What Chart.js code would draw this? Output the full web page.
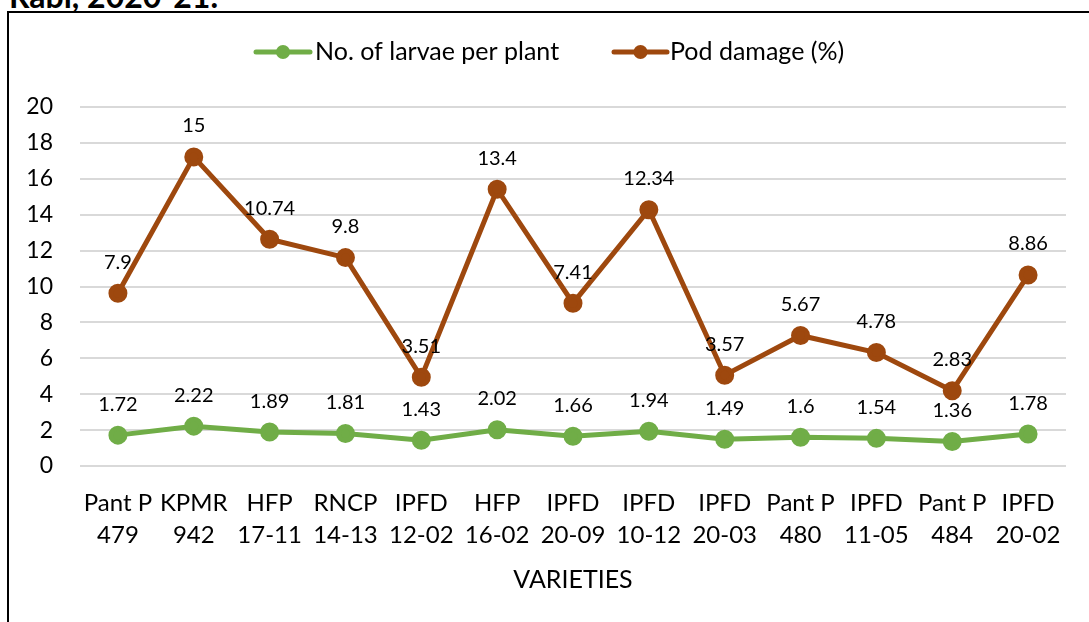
<!DOCTYPE html>
<html>
<head>
<meta charset="utf-8">
<script src="https://cdn.jsdelivr.net/npm/chart.js@4"></script>
<style>
  html, body { margin: 0; padding: 0; background: #fff; overflow: hidden; }
  body { width: 1089px; height: 622px; position: relative; }
  #title { position: absolute; left: 9px; top: -20px; font: bold 32px Lato, sans-serif; line-height: 1; color: #000; white-space: nowrap; }
  #frame { position: absolute; left: 7px; top: 11px; width: 1200px; height: 800px; border: 2px solid #000; }
  #chart { position: absolute; left: 0; top: 0; }
</style>
</head>
<body>
<div id="title">Rabi, 2020-21.</div>
<div id="frame"></div>
<canvas id="chart" width="1089" height="622"></canvas>
<script>
// 품종 / 값
const varieties = [
  ['Pant P', '479'], ['KPMR', '942'], ['HFP', '17-11'], ['RNCP', '14-13'], ['IPFD', '12-02'],
  ['HFP', '16-02'], ['IPFD', '20-09'], ['IPFD', '10-12'], ['IPFD', '20-03'], ['Pant P', '480'],
  ['IPFD', '11-05'], ['Pant P', '484'], ['IPFD', '20-02']
];
const larvae = [1.72, 2.22, 1.89, 1.81, 1.43, 2.02, 1.66, 1.94, 1.49, 1.6, 1.54, 1.36, 1.78];
const podDamage = [7.9, 15, 10.74, 9.8, 3.51, 13.4, 7.41, 12.34, 3.57, 5.67, 4.78, 2.83, 8.86];
const yTicks = [0, 2, 4, 6, 8, 10, 12, 14, 16, 18, 20];

const GREEN = '#70AD47';
const BROWN = '#9E480E';
const FONT = 'Lato, sans-serif';

// ========== 데이터 라벨 ==========
const dataLabels = {
  id: 'dataLabels',
  afterDatasetsDraw(chart) {
    const c = chart.ctx;
    c.save();
    c.font = '20px ' + FONT;
    c.fillStyle = '#000';
    c.textAlign = 'center';
    c.textBaseline = 'middle';
    chart.data.datasets.forEach((ds, di) => {
      chart.getDatasetMeta(di).data.forEach((pt, i) => {
        c.fillText(String(ds.data[i]), pt.x, pt.y - 31);
      });
    });
    c.restore();
  }
};

// ========== 범례 (선 + 점) ==========
const lineLegend = {
  id: 'lineLegend',
  afterDraw(chart) {
    const c = chart.ctx;
    const items = [
      { x1: 256, x2: 310, tx: 315 },
      { x1: 614, x2: 667, tx: 670 }
    ];
    const y = 52;
    c.save();
    chart.data.datasets.forEach((ds, i) => {
      const it = items[i];
      c.strokeStyle = ds.borderColor;
      c.lineWidth = 5;
      c.lineCap = 'round';
      c.beginPath();
      c.moveTo(it.x1, y);
      c.lineTo(it.x2, y);
      c.stroke();
      c.fillStyle = ds.borderColor;
      c.beginPath();
      c.arc((it.x1 + it.x2) / 2, y, 7, 0, Math.PI * 2);
      c.fill();
      c.fillStyle = '#000';
      c.font = '25px ' + FONT;
      c.textAlign = 'left';
      c.textBaseline = 'middle';
      c.fillText(ds.label, it.tx, y);
    });
    c.restore();
  }
};

new Chart(document.getElementById('chart'), {
  type: 'line',
  data: {
    labels: varieties,
    datasets: [
      {
        label: 'No. of larvae per plant',
        data: larvae,
        borderColor: GREEN,
        backgroundColor: GREEN,
        pointBackgroundColor: GREEN,
        pointBorderColor: GREEN,
        borderWidth: 5,
        pointRadius: 7,
        fill: false,
        tension: 0
      },
      {
        label: 'Pod damage (%)',
        data: podDamage,
        borderColor: BROWN,
        backgroundColor: BROWN,
        pointBackgroundColor: BROWN,
        pointBorderColor: BROWN,
        borderWidth: 5,
        pointRadius: 7,
        fill: false,
        tension: 0
      }
    ]
  },
  options: {
    responsive: false,
    animation: false,
    layout: { padding: { top: 107, right: 23, bottom: 0, left: 0 } },
    plugins: {
      legend: { display: false },
      tooltip: { enabled: false }
    },
    scales: {
      x: {
        offset: true,
        grid: { display: false },
        border: { display: false },
        ticks: {
          color: '#000',
          font: { family: FONT, size: 24, lineHeight: 1.333 },
          padding: 13,
          maxRotation: 0,
          autoSkip: false
        },
        title: {
          display: true,
          text: 'VARIETIES',
          color: '#000',
          font: { family: FONT, size: 25 },
          padding: { top: 0, bottom: 27 }
        },
        afterFit(scale) { scale.height = 156; }
      },
      y: {
        stacked: true,
        min: 0,
        max: 20,
        afterBuildTicks(scale) { scale.ticks = yTicks.map(v => ({ value: v })); },
        grid: { color: '#d9d9d9', lineWidth: 2, drawTicks: false },
        border: { display: false },
        ticks: {
          color: '#000',
          font: { family: FONT, size: 23 },
          padding: 27
        },
        afterFit(scale) { scale.width = 80; }
      }
    }
  },
  plugins: [dataLabels, lineLegend]
});
</script>
</body>
</html>
